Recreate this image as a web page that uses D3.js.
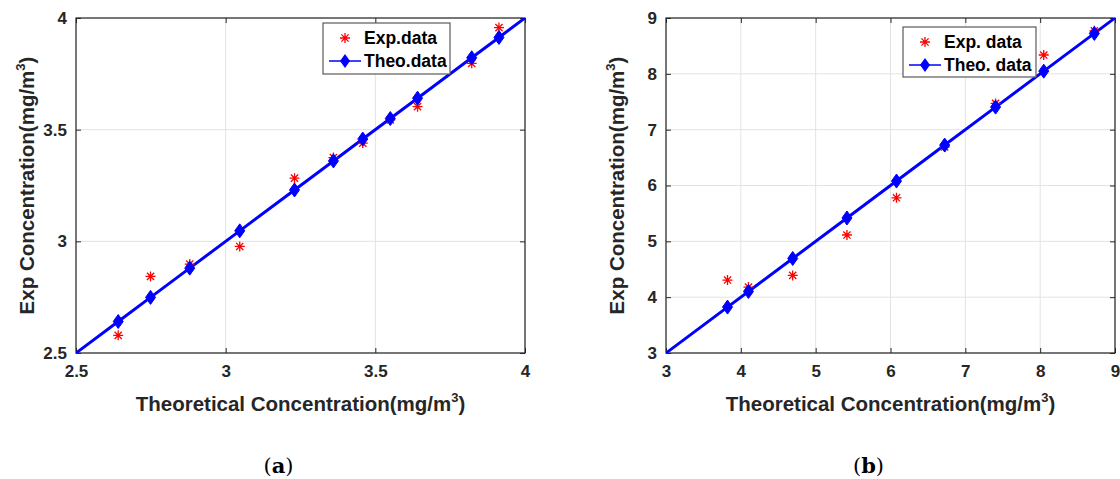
<!DOCTYPE html>
<html>
<head>
<meta charset="utf-8">
<script src="https://cdn.jsdelivr.net/npm/d3@7"></script>
<style>
  body { margin: 0; background: #fff; }
  svg { display: block; }
  .tick text { font-family: "Liberation Sans", Arial, sans-serif; font-weight: bold; font-size: 17px; fill: #262626; }
</style>
</head>
<body>
<div id="chart"></div>
<script>
// panel (a)
const theoA = [2.641, 2.749, 2.88, 3.047, 3.23, 3.36, 3.458, 3.55, 3.641, 3.822, 3.913];
const expA = [2.579, 2.843, 2.898, 2.977, 3.283, 3.375, 3.44, 3.544, 3.603, 3.797, 3.957];
const ticksA = [2.5, 3, 3.5, 4];

// panel (b)
const theoB = [3.822, 4.102, 4.693, 5.418, 6.08, 6.724, 7.404, 8.048, 8.724];
const expB = [4.307, 4.18, 4.39, 5.113, 5.78, 6.69, 7.47, 8.337, 8.77];
const ticksB = [3, 4, 5, 6, 7, 8, 9];

const width = 1120, height = 479;
const ink = "#262626";

let svg = d3.select("#chart")
    .append("svg")
    .attr("width", width)
    .attr("height", height);

function drawPanel(id, box, domain, ticks, theo, exp, legendNames, legendBox, caption) {
    let g = svg.append("g").attr("class", "panel-" + id);

    let x = d3.scaleLinear().domain(domain).range([box.left, box.right]);
    let y = d3.scaleLinear().domain(domain).range([box.bottom, box.top]);
    let fmt = d => String(d);

    // grid
    g.append("g")
        .selectAll("line.vgrid")
        .data(ticks)
        .enter()
        .append("line")
        .attr("x1", d => x(d)).attr("x2", d => x(d))
        .attr("y1", box.top).attr("y2", box.bottom)
        .attr("stroke", "#e3e3e3").attr("stroke-width", 1);
    g.append("g")
        .selectAll("line.hgrid")
        .data(ticks)
        .enter()
        .append("line")
        .attr("y1", d => y(d)).attr("y2", d => y(d))
        .attr("x1", box.left).attr("x2", box.right)
        .attr("stroke", "#e3e3e3").attr("stroke-width", 1);

    // axes, ticks inside on all four sides
    function styleAxis(sel) {
        sel.select(".domain").remove();
        sel.selectAll(".tick line").attr("stroke", ink);
    }
    g.append("g")
        .attr("transform", "translate(0," + box.bottom + ")")
        .call(d3.axisBottom(x).tickValues(ticks).tickFormat(fmt).tickSizeInner(-5).tickPadding(12))
        .call(styleAxis);
    g.append("g")
        .attr("transform", "translate(0," + box.top + ")")
        .call(d3.axisTop(x).tickValues(ticks).tickFormat("").tickSizeInner(-5))
        .call(styleAxis);
    g.append("g")
        .attr("transform", "translate(" + box.left + ",0)")
        .call(d3.axisLeft(y).tickValues(ticks).tickFormat(fmt).tickSizeInner(-5).tickPadding(9))
        .call(styleAxis);
    g.append("g")
        .attr("transform", "translate(" + box.right + ",0)")
        .call(d3.axisRight(y).tickValues(ticks).tickFormat("").tickSizeInner(-5))
        .call(styleAxis);

    g.append("rect")
        .attr("x", box.left).attr("y", box.top)
        .attr("width", box.right - box.left).attr("height", box.bottom - box.top)
        .attr("fill", "none").attr("stroke", ink).attr("stroke-width", 1.2);

    // clip
    g.append("clipPath").attr("id", "clip-" + id)
        .append("rect")
        .attr("x", box.left).attr("y", box.top)
        .attr("width", box.right - box.left).attr("height", box.bottom - box.top);

    let plot = g.append("g").attr("clip-path", "url(#clip-" + id + ")");

    // theoretical line y = x across the whole axis range
    let lineData = [domain[0]].concat(theo, [domain[1]]);
    plot.append("path")
        .datum(lineData)
        .attr("fill", "none")
        .attr("stroke", "#0000ff")
        .attr("stroke-width", 3)
        .attr("d", d3.line().x(d => x(d)).y(d => y(d)));

    let diamond = "M0,-7L5,0L0,7L-5,0Z";
    let star = "M-5,0H5M0,-5V5M-3.6,-3.6L3.6,3.6M-3.6,3.6L3.6,-3.6";

    plot.append("g")
        .selectAll("path.exp")
        .data(exp)
        .enter()
        .append("path")
        .attr("transform", (d, i) => "translate(" + x(theo[i]) + "," + y(d) + ")")
        .attr("d", star)
        .attr("stroke", "#ff0000")
        .attr("stroke-width", 1.3)
        .attr("fill", "none");

    plot.append("g")
        .selectAll("path.theo")
        .data(theo)
        .enter()
        .append("path")
        .attr("transform", d => "translate(" + x(d) + "," + y(d) + ")")
        .attr("d", diamond)
        .attr("fill", "#0000ff")
        .attr("stroke", "#0000ff")
        .attr("stroke-width", 1);

    // axis labels
    let xl = g.append("text")
        .attr("x", (box.left + box.right) / 2)
        .attr("y", box.bottom + 58)
        .attr("text-anchor", "middle")
        .style("font-family", "'Liberation Sans', Arial, sans-serif")
        .style("font-weight", "bold")
        .style("font-size", "20.5px")
        .attr("fill", ink);
    xl.append("tspan").text("Theoretical Concentration(mg/m");
    xl.append("tspan").attr("dy", -9).style("font-size", "13px").text("3");
    xl.append("tspan").attr("dy", 9).text(")");

    let yl = g.append("text")
        .attr("transform", "translate(" + (box.left - 42) + "," + ((box.top + box.bottom) / 2) + ") rotate(-90)")
        .attr("text-anchor", "middle")
        .style("font-family", "'Liberation Sans', Arial, sans-serif")
        .style("font-weight", "bold")
        .style("font-size", "20.5px")
        .attr("fill", ink);
    yl.append("tspan").text("Exp Concentration(mg/m");
    yl.append("tspan").attr("dy", -9).style("font-size", "13px").text("3");
    yl.append("tspan").attr("dy", 9).text(")");

    // legend
    let lg = g.append("g").attr("transform", "translate(" + legendBox.x + "," + legendBox.y + ")");
    lg.append("rect")
        .attr("width", legendBox.w).attr("height", legendBox.h)
        .attr("fill", "#fff").attr("stroke", "#5a5a5a").attr("stroke-width", 1.2);
    lg.append("path")
        .attr("transform", "translate(" + 22 + "," + 15 + ")")
        .attr("d", star).attr("stroke", "#ff0000").attr("stroke-width", 1.3).attr("fill", "none");
    lg.append("line")
        .attr("x1", 6).attr("x2", 38).attr("y1", 38).attr("y2", 38)
        .attr("stroke", "#0000ff").attr("stroke-width", 1.5);
    lg.append("path")
        .attr("transform", "translate(" + 22 + "," + 38 + ")")
        .attr("d", diamond).attr("fill", "#0000ff");
    lg.selectAll("text.leg")
        .data(legendNames)
        .enter()
        .append("text")
        .attr("x", 41)
        .attr("y", (d, i) => 15 + i * 23)
        .attr("dy", "0.35em")
        .style("font-family", "'Liberation Sans', Arial, sans-serif")
        .style("font-weight", "bold")
        .style("font-size", "17.5px")
        .attr("fill", "#000")
        .text(d => d);

    // sub-caption
    let cap = g.append("text")
        .attr("x", (box.left + box.right) / 2 - 22)
        .attr("y", 473)
        .attr("text-anchor", "middle")
        .style("font-family", "'DejaVu Serif', 'Liberation Serif', serif")
        .style("font-size", "21px")
        .attr("fill", "#000");
    cap.append("tspan").text("(");
    cap.append("tspan").style("font-weight", "bold").text(caption);
    cap.append("tspan").text(")");
}

drawPanel("a", {left: 76, right: 525, top: 18, bottom: 353}, [2.5, 4], ticksA, theoA, expA,
    ["Exp.data", "Theo.data"], {x: 323, y: 23, w: 127, h: 51}, "a");
drawPanel("b", {left: 666, right: 1115, top: 18, bottom: 353}, [3, 9], ticksB, theoB, expB,
    ["Exp. data", "Theo. data"], {x: 903, y: 27, w: 133, h: 50}, "b");
</script>
</body>
</html>
